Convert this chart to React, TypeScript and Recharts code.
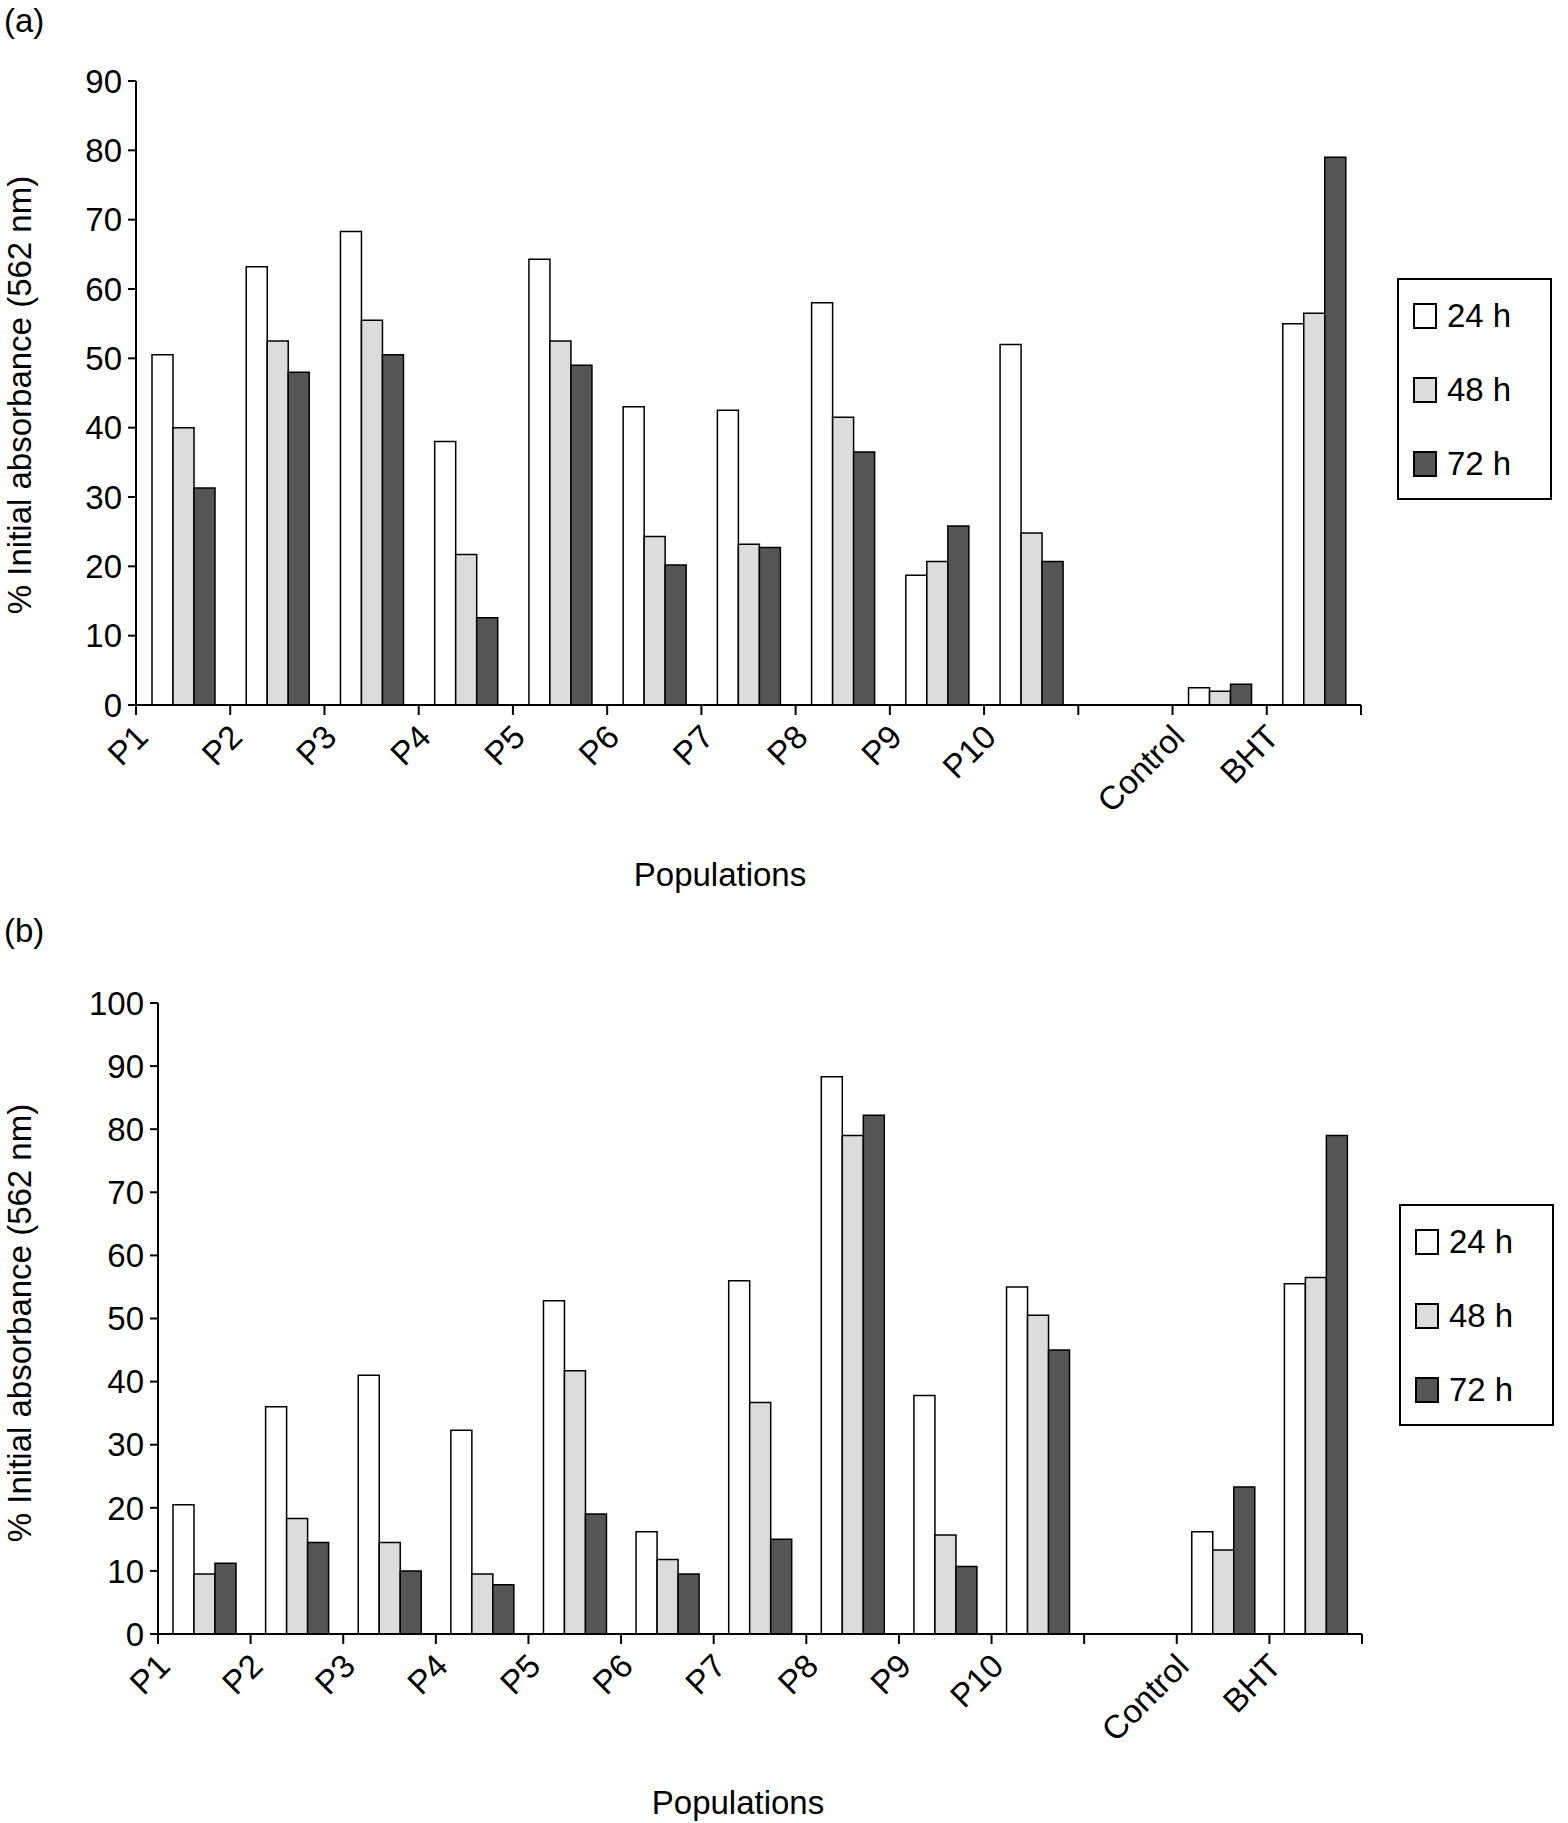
import React from 'react';
import { BarChart, Bar, XAxis, YAxis } from 'recharts';

const categories = ['P1', 'P2', 'P3', 'P4', 'P5', 'P6', 'P7', 'P8', 'P9', 'P10', '', 'Control', 'BHT'];

// panel (a)
const a24 = [50.5, 63.2, 68.3, 38, 64.3, 43, 42.5, 58, 18.7, 52, null, 2.5, 55];
const a48 = [40, 52.5, 55.5, 21.7, 52.5, 24.3, 23.2, 41.5, 20.7, 24.8, null, 2, 56.5];
const a72 = [31.3, 48, 50.5, 12.6, 49, 20.2, 22.7, 36.5, 25.8, 20.7, null, 3, 79];
const aTicks = [0, 10, 20, 30, 40, 50, 60, 70, 80, 90];

// panel (b)
const b24 = [20.5, 36, 41, 32.3, 52.8, 16.2, 56, 88.3, 37.8, 55, null, 16.2, 55.5];
const b48 = [9.5, 18.3, 14.5, 9.5, 41.7, 11.8, 36.7, 79, 15.7, 50.5, null, 13.3, 56.5];
const b72 = [11.2, 14.5, 10, 7.8, 19, 9.5, 15, 82.2, 10.7, 45, null, 23.3, 79];
const bTicks = [0, 10, 20, 30, 40, 50, 60, 70, 80, 90, 100];

const seriesNames = ['24 h', '48 h', '72 h'];
const fills = ['#ffffff', '#dcdcdc', '#555555'];
const FONT = '"Liberation Sans", Arial, sans-serif';

const build = (s1: any[], s2: any[], s3: any[]) =>
  categories.map((c, i) => ({ name: c, s24: s1[i], s48: s2[i], s72: s3[i] }));

const makeTick = (bw: number) => (props: any) => {
  const { x, y, payload, index } = props;
  const lx = x - bw / 2;
  return (
    <g>
      <line x1={lx} y1={y} x2={lx} y2={y + 10} stroke="#000" strokeWidth={2} />
      {index === categories.length - 1 && (
        <line x1={x + bw / 2} y1={y} x2={x + bw / 2} y2={y + 10} stroke="#000" strokeWidth={2} />
      )}
      <text
        x={lx + 14}
        y={y + 34}
        textAnchor="end"
        transform={`rotate(-45 ${lx + 14} ${y + 34})`}
        fontSize={33}
        fontFamily={FONT}
        fill="#000"
      >
        {payload.value}
      </text>
    </g>
  );
};

const Legend = ({ left, top }: { left: number; top: number }) => (
  <div
    style={{
      position: 'absolute', left, top, width: 155, height: 222, border: '2px solid #000',
      boxSizing: 'border-box', background: '#fff', fontFamily: FONT, fontSize: 33,
    }}
  >
    {seriesNames.map((n, i) => (
      <div key={n} style={{ position: 'absolute', left: 14, top: 17 + i * 74, display: 'flex', alignItems: 'center' }}>
        <div style={{ width: 20, height: 22, border: '2px solid #000', background: fills[i], marginRight: 10 }} />
        <span>{n}</span>
      </div>
    ))}
  </div>
);

interface PanelProps {
  data: any[];
  ticks: number[];
  max: number;
  top: number;
  plotLeft: number;
  plotTop: number;
  plotRight: number;
  plotBottom: number;
}

const Panel: React.FC<PanelProps> = ({ data, ticks, max, top, plotLeft, plotTop, plotRight, plotBottom }) => {
  const height = 900;
  const bw = (plotRight - plotLeft) / categories.length;
  return (
    <div style={{ position: 'absolute', left: 0, top }}>
      <BarChart
        width={1568}
        height={height}
        data={data}
        margin={{ top: plotTop, left: 0, right: 1568 - plotRight, bottom: 0 }}
        barSize={21}
        barGap={0}
      >
        <XAxis
          dataKey="name"
          height={height - plotBottom}
          tickLine={false}
          tickSize={0}
          tickMargin={0}
          interval={0}
          axisLine={{ stroke: '#000', strokeWidth: 2 }}
          tick={makeTick(bw)}
        />
        <YAxis
          width={plotLeft}
          domain={[0, max]}
          ticks={ticks}
          interval={0}
          axisLine={{ stroke: '#000', strokeWidth: 2 }}
          tickLine={{ stroke: '#000', strokeWidth: 2 }}
          tickSize={8}
          tickMargin={6}
          tick={{ fontSize: 33, fontFamily: FONT, fill: '#000' }}
        />
        <Bar dataKey="s24" fill={fills[0]} stroke="#000" strokeWidth={1.5} isAnimationActive={false} />
        <Bar dataKey="s48" fill={fills[1]} stroke="#000" strokeWidth={1.5} isAnimationActive={false} />
        <Bar dataKey="s72" fill={fills[2]} stroke="#000" strokeWidth={1.5} isAnimationActive={false} />
      </BarChart>
    </div>
  );
};

const YLabel = ({ cy }: { cy: number }) => (
  <div
    style={{
      position: 'absolute', left: 20 - 300, top: cy - 19, width: 600, textAlign: 'center',
      transform: 'rotate(-90deg)', fontFamily: FONT, fontSize: 33, lineHeight: '38px',
    }}
  >
    % Initial absorbance (562 nm)
  </div>
);

const Text = ({ left, top, children, center }: any) => (
  <div
    style={{
      position: 'absolute', left: center ? left - 300 : left, top, width: center ? 600 : undefined,
      textAlign: center ? 'center' : 'left', fontFamily: FONT, fontSize: 33, lineHeight: '38px',
    }}
  >
    {children}
  </div>
);

export default function App() {
  const dataA = build(a24, a48, a72);
  const dataB = build(b24, b48, b72);
  return (
    <div style={{ position: 'absolute', left: 0, top: 0, width: 1568, height: 1823, background: '#fff', overflow: 'hidden' }}>
      <Panel data={dataA} ticks={aTicks} max={90} top={0} plotLeft={136} plotTop={81} plotRight={1361} plotBottom={705} />
      <Panel data={dataB} ticks={bTicks} max={100} top={900} plotLeft={158} plotTop={103} plotRight={1362} plotBottom={734} />
      <Text left={4} top={2}>(a)</Text>
      <Text left={4} top={912}>(b)</Text>
      <Text left={720} top={856} center>Populations</Text>
      <Text left={738} top={1784} center>Populations</Text>
      <YLabel cy={395} />
      <YLabel cy={1323} />
      <Legend left={1397} top={278} />
      <Legend left={1399} top={1204} />
    </div>
  );
}
